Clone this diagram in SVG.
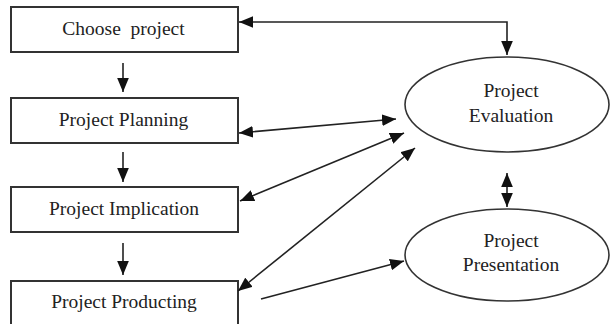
<svg xmlns="http://www.w3.org/2000/svg" width="612" height="324" viewBox="0 0 612 324">
<defs>
<style>
.box{fill:#fff;stroke:#333;stroke-width:2}
.ell{fill:#fff;stroke:#333;stroke-width:1.6}
.t{font-family:"Liberation Serif","Times New Roman",serif;font-size:19.5px;fill:#222;text-anchor:middle;white-space:pre}
.c{fill:none;stroke:#222;stroke-width:1.6}
</style>
<marker id="ah" viewBox="0 0 12 10" refX="12" refY="5" markerWidth="14" markerHeight="12" markerUnits="userSpaceOnUse" orient="auto-start-reverse">
<path d="M0,0 L12,5 L0,10 z" fill="#111"/>
</marker>
</defs>
<rect width="612" height="324" fill="#fff"/>
<g id="choose"><rect class="box" x="11" y="7" width="227" height="45"/><text class="t" x="123.5" y="35" xml:space="preserve">Choose  project</text></g>
<g id="planning"><rect class="box" x="11" y="98" width="227" height="45"/><text class="t" x="123.5" y="126">Project Planning</text></g>
<g id="implication"><rect class="box" x="11" y="187" width="227" height="45"/><text class="t" x="124" y="215">Project Implication</text></g>
<g id="producting"><rect class="box" x="11" y="281" width="227" height="50"/><text class="t" x="124" y="308">Project Producting</text></g>
<g id="evaluation"><ellipse class="ell" cx="507" cy="104.5" rx="102" ry="47.5"/><text class="t" x="511" y="97">Project</text><text class="t" x="511" y="122">Evaluation</text></g>
<g id="presentation"><ellipse class="ell" cx="507" cy="255" rx="102" ry="46"/><text class="t" x="511" y="247">Project</text><text class="t" x="511" y="271">Presentation</text></g>
<g id="connectors">
<line class="c" x1="123" y1="63" x2="123" y2="92" marker-end="url(#ah)"/>
<line class="c" x1="123" y1="152" x2="123" y2="182" marker-end="url(#ah)"/>
<line class="c" x1="123" y1="243" x2="123" y2="275" marker-end="url(#ah)"/>
<path class="c" d="M239,22 H507 V55" marker-start="url(#ah)" marker-end="url(#ah)"/>
<line class="c" x1="239" y1="133" x2="396" y2="119" marker-start="url(#ah)" marker-end="url(#ah)"/>
<line class="c" x1="240" y1="201" x2="404" y2="133" marker-start="url(#ah)" marker-end="url(#ah)"/>
<line class="c" x1="238" y1="291" x2="415" y2="148" marker-start="url(#ah)" marker-end="url(#ah)"/>
<line class="c" x1="261" y1="299" x2="404" y2="261" marker-end="url(#ah)"/>
<line class="c" x1="507" y1="173" x2="507" y2="207" marker-start="url(#ah)" marker-end="url(#ah)"/>
</g>
</svg>
